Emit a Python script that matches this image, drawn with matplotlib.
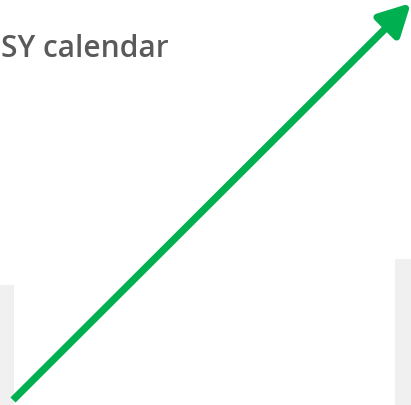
import matplotlib
matplotlib.use("Agg")
import matplotlib.pyplot as plt

# gray column blocks (left edge, width, top)
bar_left = [0, 395]
bar_width = [14, 16]
bar_top = [285, 259]
# arrow from / to (pixel coordinates of the canvas)
arrow_start = (13, 400)
arrow_end = (411, 3)
title = "SY calendar"

fig = plt.figure(figsize=(4.11, 4.05), dpi=100)
ax = fig.add_axes([0, 0, 1, 1])
ax.set_xlim(0, 411)
ax.set_ylim(405, 0)
ax.axis("off")

for l, w, t in zip(bar_left, bar_width, bar_top):
    ax.bar(l, 405 - t, width=w, bottom=t, align="edge", color="#f0f0f0", linewidth=0)

ax.text(1, 57, title, fontsize=21.5, color="#5a5a5a", family="Open Sans",
        fontweight="semibold", va="baseline", ha="left")

ax.annotate("", xy=arrow_end, xytext=arrow_start,
            arrowprops=dict(arrowstyle="-|>,head_length=1.9,head_width=1.0",
                            color="#00b050", lw=5.2, shrinkA=0, shrinkB=0,
                            capstyle="butt"))

fig.savefig("out.png", dpi=100)
